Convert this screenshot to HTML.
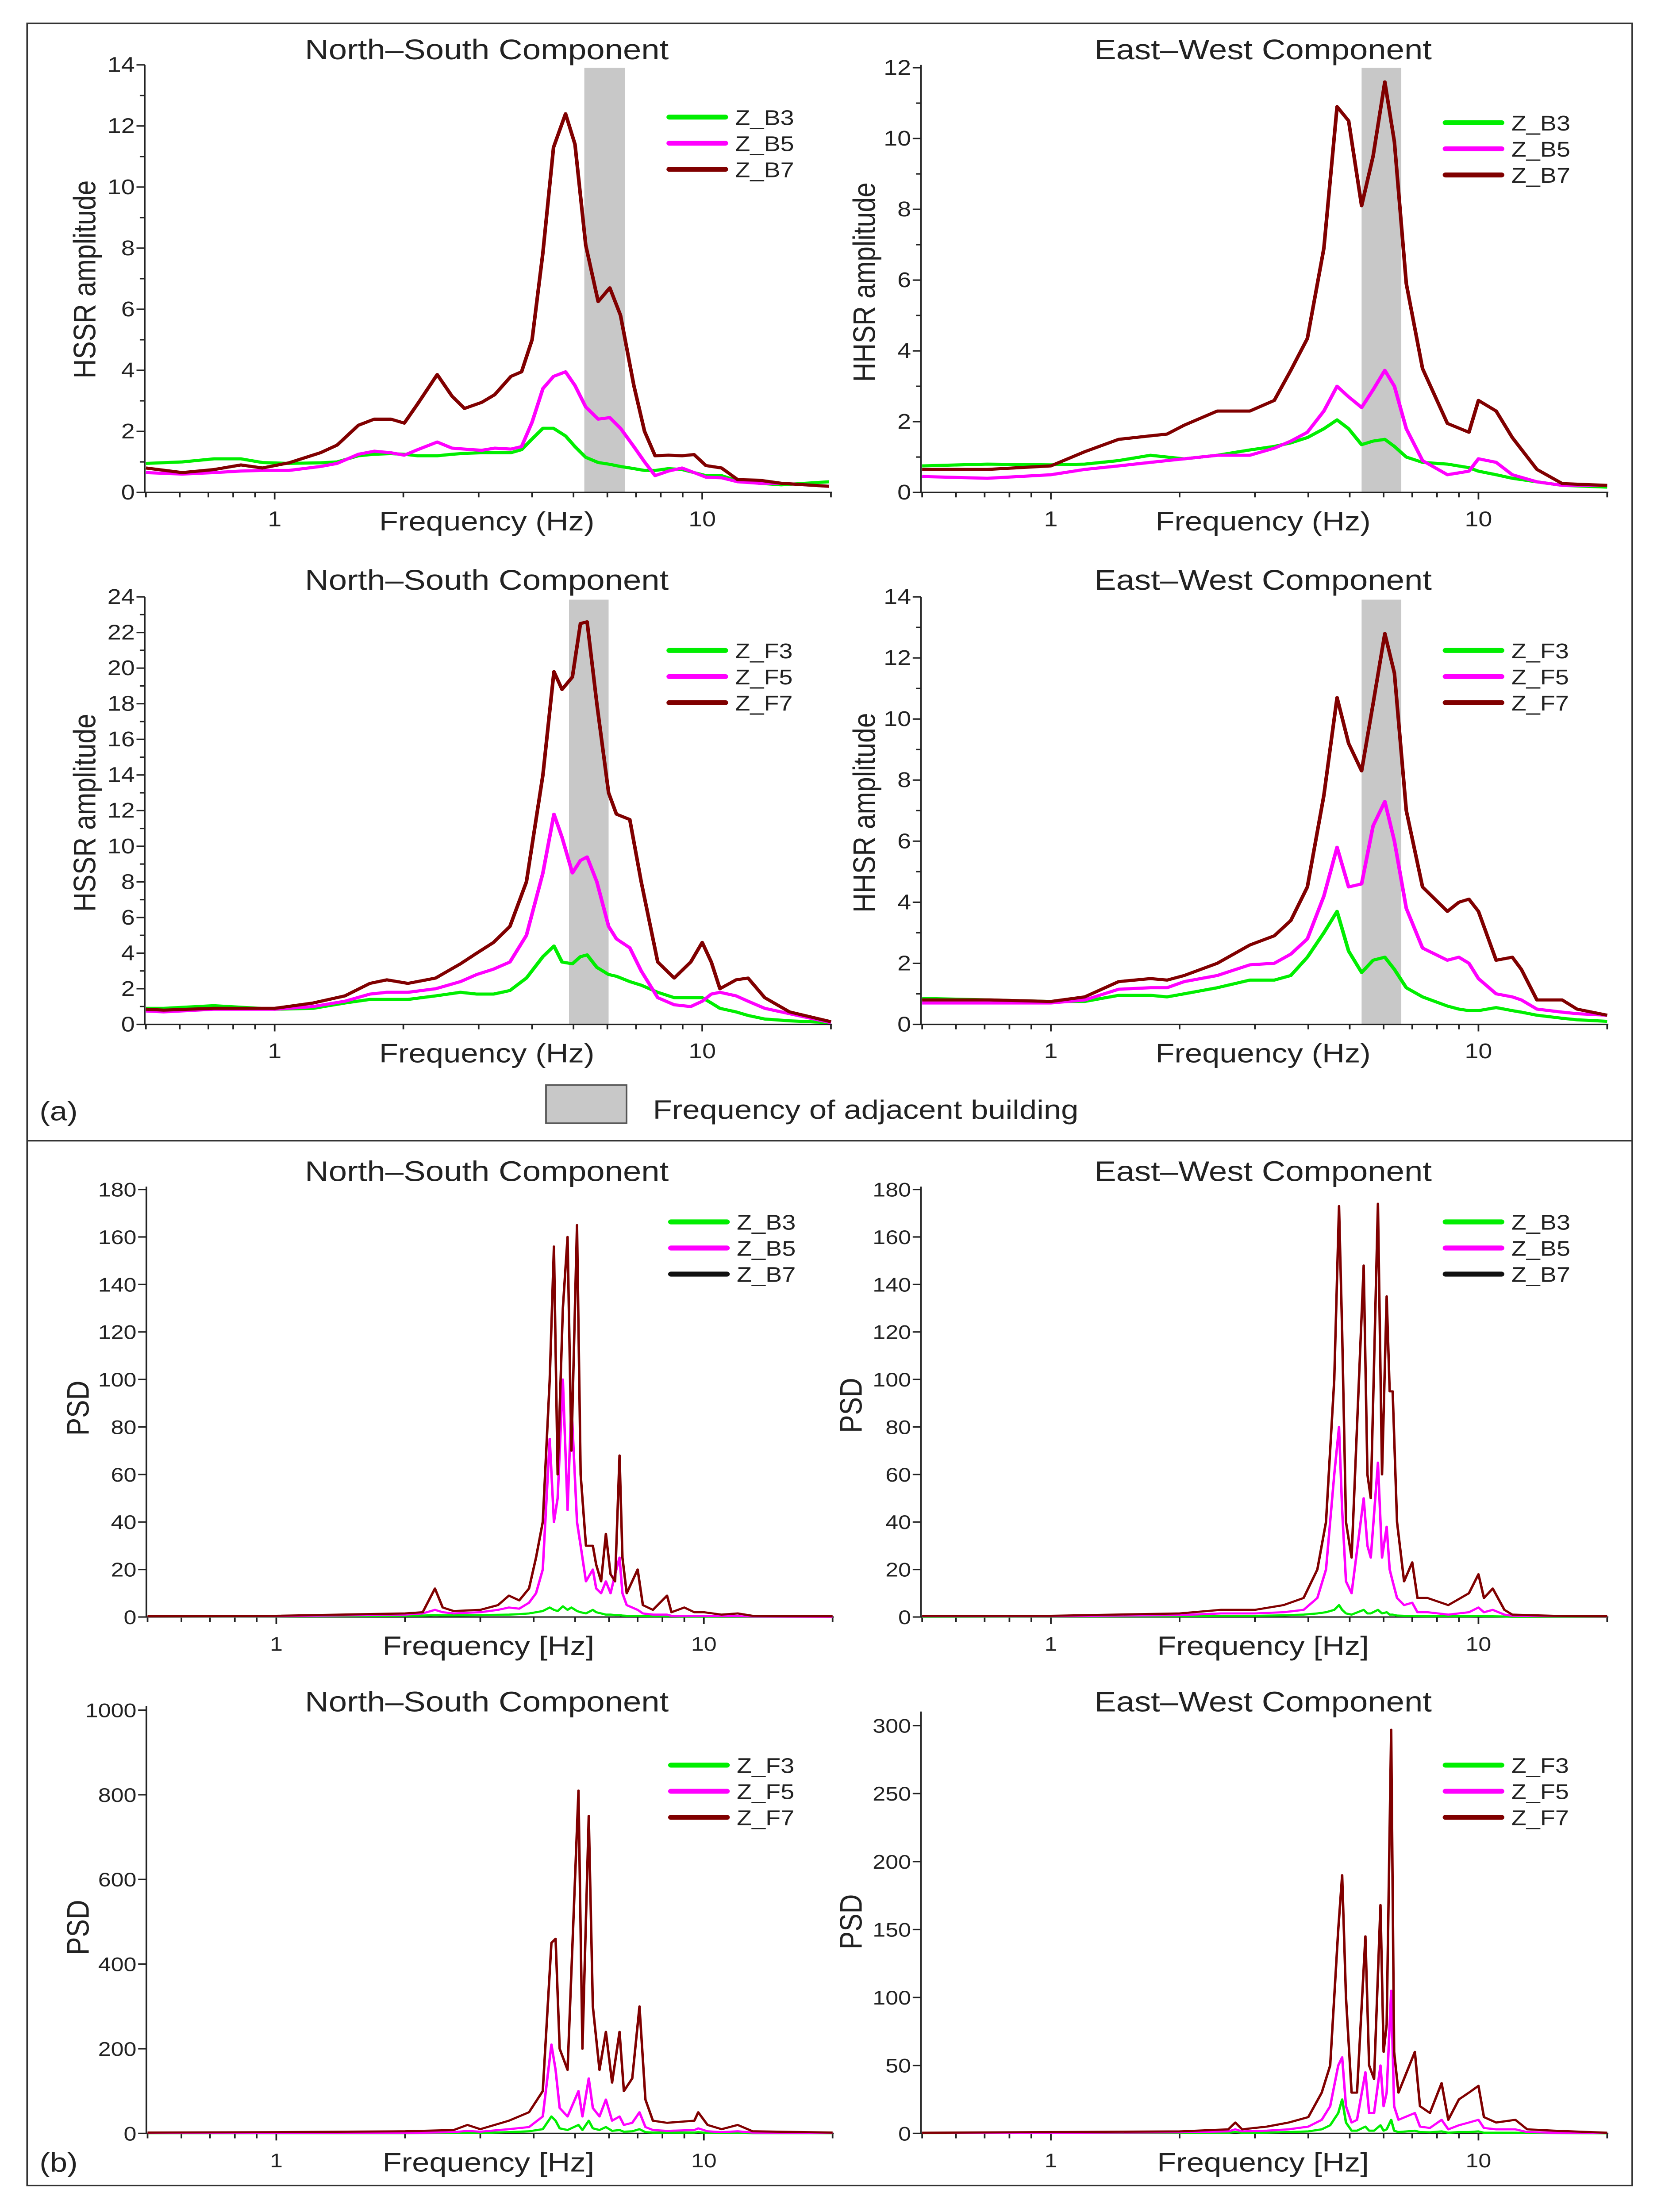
<!DOCTYPE html>
<html><head><meta charset="utf-8"><title>HSSR and PSD charts</title>
<style>
html,body{margin:0;padding:0;background:#fff;width:100%;height:100%;overflow:hidden;}
svg{display:block;position:fixed;left:0;top:0;width:100vw;height:100vh;}
text{font-family:"Liberation Sans",Arial,sans-serif;fill:#222;}
</style></head>
<body>
<svg id="fig" xmlns="http://www.w3.org/2000/svg" viewBox="0 0 1010 1567.7" preserveAspectRatio="none">
<rect x="0" y="0" width="1010" height="1567.7" fill="#fff"/>
<rect x="16.5" y="16.5" width="976" height="1532.5" fill="none" stroke="#333" stroke-width="1"/>
<line x1="16.5" y1="808.5" x2="992.5" y2="808.5" stroke="#333" stroke-width="1"/>
<text x="24" y="794" font-size="19">(a)</text>
<text x="24" y="1539" font-size="19">(b)</text>
<rect x="332" y="769" width="49" height="27" fill="#c8c8c8" stroke="#555" stroke-width="1"/>
<text x="397" y="793" font-size="19">Frequency of adjacent building</text>
</svg>
<script>
// ---------- DATA ----------
// Panel 1: HSSR NS (B)
const p1Freq = [0.50,0.608,0.722,0.834,0.936,1.08,1.28,1.40,1.57,1.71,1.87,2.01,2.16,2.40,2.60,2.78,3.05,3.27,3.57,3.78,4.00,4.24,4.49,4.79,5.04,5.34,5.71,6.08,6.44,6.92,7.33,7.76,8.34,8.97,9.57,10.2,11.1,12.1,13.6,15.3,19.8];
const p1B7 = [0.8,0.65,0.75,0.9,0.8,0.97,1.3,1.55,2.2,2.4,2.4,2.27,2.9,3.86,3.15,2.75,2.95,3.2,3.8,3.95,5.0,7.85,11.3,12.4,11.4,8.1,6.25,6.7,5.8,3.5,2.0,1.2,1.22,1.2,1.24,0.88,0.8,0.42,0.4,0.3,0.2];
const p1B5 = [0.65,0.6,0.65,0.7,0.72,0.72,0.85,0.95,1.25,1.35,1.3,1.22,1.4,1.65,1.45,1.42,1.38,1.45,1.42,1.5,2.3,3.4,3.8,3.95,3.5,2.8,2.4,2.45,2.1,1.5,1.0,0.55,0.7,0.8,0.65,0.5,0.48,0.35,0.3,0.3,0.2];
const p1B3 = [0.95,1.0,1.1,1.1,0.98,0.95,0.97,1.0,1.2,1.25,1.27,1.25,1.2,1.2,1.25,1.28,1.3,1.3,1.3,1.4,1.75,2.1,2.1,1.85,1.5,1.15,0.98,0.92,0.85,0.78,0.72,0.72,0.78,0.75,0.65,0.55,0.55,0.38,0.3,0.25,0.35];
const p1Band = [5.3,6.6];
const p1Ticks = [0,2,4,6,8,10,12,14];

// Panel 2: HHSR EW (B)
const p2Freq = [0.5,0.71,1.0,1.2,1.44,1.71,1.87,2.05,2.45,2.92,3.33,3.64,3.98,4.35,4.67,4.97,5.33,5.67,6.04,6.36,6.78,7.4,8.46,9.5,10,11,12,13.7,15.7,20];
const p2B7 = [0.65,0.65,0.75,1.15,1.5,1.6,1.65,1.9,2.3,2.3,2.6,3.45,4.35,6.9,10.9,10.5,8.1,9.5,11.6,9.9,5.9,3.5,1.95,1.7,2.6,2.3,1.55,0.65,0.25,0.2];
const p2B5 = [0.45,0.4,0.5,0.65,0.75,0.85,0.9,0.95,1.05,1.05,1.25,1.45,1.7,2.3,3.0,2.7,2.4,2.9,3.45,3.0,1.8,0.9,0.5,0.6,0.95,0.85,0.5,0.3,0.2,0.2];
const p2B3 = [0.75,0.8,0.78,0.8,0.9,1.05,1.0,0.95,1.05,1.2,1.3,1.4,1.55,1.8,2.05,1.8,1.35,1.45,1.5,1.3,1.0,0.85,0.8,0.7,0.6,0.5,0.4,0.3,0.2,0.15];
const p2Band = [5.33,6.6];
const p2Ticks = [0,2,4,6,8,10,12];

// Panel 3: HSSR NS (F)
const p3Freq = [0.5,0.55,0.72,1,1.23,1.46,1.67,1.83,2.05,2.38,2.72,2.97,3.25,3.55,3.88,4.24,4.5,4.7,4.97,5.19,5.38,5.67,6.04,6.3,6.77,7.2,7.87,8.6,9.4,10,10.5,11,12,12.8,14,16,20];
const p3F7 = [0.85,0.8,0.9,0.9,1.2,1.6,2.3,2.5,2.3,2.6,3.4,4.0,4.6,5.5,8,14,19.8,18.8,19.5,22.5,22.6,18,13,11.8,11.5,8,3.5,2.6,3.5,4.6,3.5,2.0,2.5,2.6,1.5,0.7,0.15];
const p3F5 = [0.75,0.7,0.85,0.85,1.0,1.3,1.7,1.8,1.8,2.0,2.4,2.8,3.1,3.5,5,8.5,11.8,10.5,8.5,9.2,9.4,8.0,5.5,4.8,4.3,3.0,1.5,1.1,1.0,1.3,1.7,1.8,1.6,1.3,0.9,0.6,0.1];
const p3F3 = [0.9,0.9,1.05,0.85,0.9,1.2,1.4,1.4,1.4,1.6,1.8,1.7,1.7,1.9,2.6,3.8,4.4,3.5,3.4,3.8,3.9,3.2,2.8,2.7,2.4,2.2,1.8,1.5,1.5,1.5,1.2,0.9,0.7,0.5,0.3,0.2,0.1];
const p3Band = [4.88,6.04];
const p3Ticks = [0,2,4,6,8,10,12,14,16,18,20,22,24];

// Panel 4: HHSR EW (F)
const p4Freq = [0.5,0.72,1,1.2,1.44,1.71,1.87,2.05,2.45,2.92,3.33,3.64,3.98,4.35,4.67,4.97,5.33,5.67,6.04,6.36,6.78,7.4,8.46,9.0,9.5,10,11,12,12.6,13.7,15.7,17,20];
const p4F7 = [0.8,0.8,0.75,0.9,1.4,1.5,1.45,1.6,2.0,2.6,2.9,3.4,4.5,7.5,10.7,9.2,8.3,10.5,12.8,11.5,7.0,4.5,3.7,4.0,4.1,3.7,2.1,2.2,1.8,0.8,0.8,0.5,0.3];
const p4F5 = [0.7,0.7,0.7,0.8,1.15,1.2,1.2,1.4,1.6,1.95,2.0,2.3,2.8,4.2,5.8,4.5,4.6,6.5,7.3,6.0,3.8,2.5,2.1,2.2,2.0,1.5,1.0,0.9,0.8,0.5,0.4,0.35,0.3];
const p4F3 = [0.85,0.8,0.75,0.75,0.95,0.95,0.9,1.0,1.2,1.45,1.45,1.6,2.2,3.0,3.7,2.4,1.7,2.1,2.2,1.8,1.2,0.9,0.6,0.5,0.45,0.45,0.55,0.45,0.4,0.3,0.2,0.15,0.1];
const p4Band = [5.33,6.6];
const p4Ticks = [0,2,4,6,8,10,12,14];

// Panel 5: PSD NS (B)
const p5Freq = [0.5,1.0,2.0,2.2,2.35,2.45,2.6,3.0,3.3,3.5,3.7,3.9,4.05,4.2,4.36,4.46,4.55,4.68,4.80,4.9,5.05,5.15,5.3,5.5,5.6,5.75,5.9,6.05,6.2,6.35,6.45,6.6,7.0,7.2,7.6,8.2,8.4,9.0,9.5,10,11,12,13,20];
const p5B7 = [0.3,0.5,1.5,2,12,4,2.5,3,5,9,7,12,25,40,100,156,60,130,160,70,165,60,30,30,22,15,35,18,15,68,25,10,20,5,3,9,2,4,2,2,1,1.5,0.5,0.3];
const p5B5 = [0.2,0.3,1,1.5,3,2,1.5,2,3,4,3.5,6,10,20,75,40,50,100,45,90,40,30,15,20,12,10,15,10,18,25,10,5,3,1.5,1,1,0.5,0.5,0.5,0.5,0.3,0.3,0.2,0.1];
const p5B3 = [0.1,0.2,0.5,0.6,0.8,0.7,0.7,0.8,0.9,1,1.2,1.5,2,2.5,4,3,2.5,4.5,3,4,2.5,2,1.5,3,2,1.5,1,1,0.8,0.8,0.6,0.5,0.5,0.4,0.3,0.3,0.3,0.2,0.2,0.2,0.1,0.1,0.1,0.1];
const p5Ticks = [0,20,40,60,80,100,120,140,160,180];

// Panel 6: PSD EW (B)
const p6Freq = [0.5,1,2,2.5,3,3.5,3.9,4.2,4.4,4.6,4.72,4.8,4.9,5.05,5.39,5.5,5.6,5.82,5.95,6.1,6.2,6.3,6.45,6.7,7.0,7.2,7.6,8.5,9.5,10,10.3,10.8,11.5,12,15,20];
const p6B7 = [0.5,0.5,1.5,3,3,5,8,20,40,100,173,120,40,25,148,60,50,174,60,135,95,95,40,15,23,8,8,5,10,18,8,12,3,1,0.5,0.3];
const p6B5 = [0.3,0.3,0.8,1.5,1.5,2,3,8,20,60,80,45,15,10,50,30,25,65,25,38,20,15,8,5,6,2,2,1,2,4,2,3,1,0.5,0.3,0.2];
const p6B3 = [0.1,0.2,0.3,0.5,0.5,0.7,1,1.5,2,3,5,3,1.5,1,3,1.5,1.5,3,1.5,2,1,1,0.6,0.5,0.5,0.4,0.3,0.3,0.3,0.5,0.3,0.3,0.2,0.1,0.1,0.1];
const p6Ticks = [0,20,40,60,80,100,120,140,160,180];

// Panel 7: PSD NS (F)
const p7Freq = [0.5,1,2,2.6,2.8,3.0,3.5,3.9,4.2,4.4,4.5,4.6,4.8,5.09,5.2,5.38,5.5,5.7,5.9,6.1,6.35,6.5,6.8,7.07,7.3,7.6,8.2,9.5,9.7,10.2,11,12,13,20];
const p7F7 = [2,3,5,8,20,10,30,50,100,450,460,200,150,810,200,750,300,150,240,120,240,100,130,300,80,30,25,30,50,20,10,20,5,2];
const p7F5 = [1,1,1,3,6,4,10,15,40,210,150,60,40,100,40,130,60,40,80,30,40,20,25,50,15,8,6,8,12,5,3,5,2,1];
const p7F3 = [0.5,0.5,0.5,1,2,1,3,5,10,40,30,12,8,20,8,30,12,8,15,6,8,4,5,10,3,2,2,2,3,1,1,1,0.5,0.5];
const p7Ticks = [0,200,400,600,800,1000];

// Panel 8: PSD EW (F)
const p8Freq = [0.5,1,2,2.6,2.7,2.8,3.2,3.6,4.0,4.3,4.5,4.7,4.8,4.9,5.05,5.2,5.44,5.55,5.7,5.9,6.0,6.1,6.25,6.35,6.5,7.1,7.3,7.7,8.2,8.5,9.0,9.5,10,10.3,11,12.2,13,15,20];
const p8F7 = [0.5,1,1.5,3,8,3,5,8,12,30,50,150,190,100,30,30,145,50,40,168,60,80,297,60,30,60,20,15,37,10,25,30,35,12,8,10,3,2,0.5];
const p8F5 = [0.3,0.5,0.8,1.5,3,1.5,2,3,5,10,20,50,56,20,8,10,45,15,15,50,20,30,105,20,10,15,5,4,10,3,6,8,10,4,3,3,1,0.5,0.3];
const p8F3 = [0.2,0.3,0.4,0.5,1,0.5,0.6,1,1.5,3,6,15,25,8,2,2,5,2,2,6,2,3,10,2,1,2,1,0.8,1.5,0.5,1,1,1.5,0.5,0.5,0.5,0.3,0.2,0.1];
const p8Ticks = [0,50,100,150,200,250,300];

const GREEN = '#00ee00', MAGENTA = '#ff00ff', BROWN = '#800000', BLACK = '#111111';
const NS = 'http://www.w3.org/2000/svg';
const svg = document.getElementById('fig');

function mk(tag, attrs, parent){
  const e = document.createElementNS(NS, tag);
  for (const k in attrs) e.setAttribute(k, attrs[k]);
  (parent||svg).appendChild(e);
  return e;
}

function panel(cfg){
  const g = mk('g', {});
  
  
  const L = cfg.left, R = cfg.left + 418, B = cfg.bottom, T = cfg.top;
  const x1 = L + 79;
  const dec = 260;
  const xs = f => x1 + dec * Math.log10(f);
  const ys = v => B - (v / cfg.ymax) * (B - T);

  if (cfg.band){
    const r = mk('rect', {x: xs(cfg.band[0]), y: cfg.bandTop, width: xs(cfg.band[1]) - xs(cfg.band[0]), height: B - cfg.bandTop, fill: '#c8c8c8'}, g);
    
    
  }
  const ya = mk('line', {x1: L, y1: cfg.axisTop, x2: L, y2: B, stroke: '#222', 'stroke-width': 1}, g);
  
  
  const xa = mk('line', {x1: L, y1: B, x2: R, y2: B, stroke: '#222', 'stroke-width': 1}, g);
  
  
  cfg.ticks.forEach((t, i) => {
    const y = ys(t);
    mk('line', {x1: L - 5, y1: y, x2: L, y2: y, stroke: '#222', 'stroke-width': 1}, g);
    const tx = mk('text', {x: L - 6, y: y + 5, 'font-size': cfg.tickFont, 'text-anchor': 'end'}, g);
    tx.textContent = t;
    
    
    if (cfg.minor && i < cfg.ticks.length - 1){
      const ym = ys((t + cfg.ticks[i+1]) / 2);
      mk('line', {x1: L - 3, y1: ym, x2: L, y2: ym, stroke: '#222', 'stroke-width': 1}, g);
    }
  });
  [0.5,0.6,0.7,0.8,0.9,1,2,3,4,5,6,7,8,9,10,20].forEach(f => {
    const x = xs(f);
    const major = (f === 1 || f === 10);
    mk('line', {x1: x, y1: B, x2: x, y2: B + (major ? 5 : 3.5), stroke: '#222', 'stroke-width': 1}, g);
  });
  [[1,'1'],[10,'10']].forEach(p => {
    const tx = mk('text', {x: xs(p[0]), y: B + 24, 'font-size': cfg.tickFont, 'text-anchor': 'middle'}, g);
    tx.textContent = p[1];
    
    
  });
  const xl = mk('text', {x: L + 208, y: B + 27, 'font-size': 19, 'text-anchor': 'middle'}, g);
  xl.textContent = cfg.xlabel;
  
  
  const yl = mk('text', {x: 0, y: 0, 'font-size': 19, 'text-anchor': 'middle', transform: `translate(${cfg.ylabX},${cfg.ylabY}) rotate(-90)`}, g);
  yl.textContent = cfg.ylabel;
  
  
  const tt = mk('text', {x: cfg.titleX, y: cfg.titleY, 'font-size': 20, 'text-anchor': 'middle'}, g);
  tt.textContent = cfg.title;
  
  
  cfg.series.forEach(s => {
    const pts = cfg.freq.map((f, i) => xs(f).toFixed(2) + ',' + ys(s.vals[i]).toFixed(2)).join(' ');
    const pl = mk('polyline', {points: pts, fill: 'none', stroke: s.color, 'stroke-width': cfg.lw, 'stroke-linejoin': 'round'}, g);
    
    
  });
  cfg.series.forEach((s, i) => {
    const y = cfg.legY + i * 18.5;
    const ln = mk('line', {x1: L + 319, y1: y, x2: L + 353, y2: y, stroke: s.legColor || s.color, 'stroke-width': 3.5, 'stroke-linecap': 'round'}, g);
    
    
    const tx = mk('text', {x: L + 359, y: y + 5.5, 'font-size': 15}, g);
    tx.textContent = s.label;
    
    
  });
}

const NSs = 'North\u2013South Component', EWs = 'East\u2013West Component';
panel({name:'hssr-ns-b', left:88, top:46, bottom:349, axisTop:46, ymax:14, ticks:p1Ticks, minor:true, tickFont:15, lw:2.2,
  band:p1Band, bandTop:48, freq:p1Freq, xlabel:'Frequency (Hz)', ylabel:'HSSR amplitude', ylabX:58, ylabY:198, title:NSs, titleX:296, titleY:42, legY:83,
  series:[{label:'Z_B3',color:GREEN,vals:p1B3},{label:'Z_B5',color:MAGENTA,vals:p1B5},{label:'Z_B7',color:BROWN,vals:p1B7}]});
panel({name:'hhsr-ew-b', left:560, top:48, bottom:349, axisTop:46, ymax:12, ticks:p2Ticks, minor:true, tickFont:15, lw:2.2,
  band:p2Band, bandTop:48, freq:p2Freq, xlabel:'Frequency (Hz)', ylabel:'HHSR amplitude', ylabX:532, ylabY:200, title:EWs, titleX:768, titleY:42, legY:87,
  series:[{label:'Z_B3',color:GREEN,vals:p2B3},{label:'Z_B5',color:MAGENTA,vals:p2B5},{label:'Z_B7',color:BROWN,vals:p2B7}]});
panel({name:'hssr-ns-f', left:88, top:423, bottom:726, axisTop:423, ymax:24, ticks:p3Ticks, minor:true, tickFont:15, lw:2.2,
  band:p3Band, bandTop:425, freq:p3Freq, xlabel:'Frequency (Hz)', ylabel:'HSSR amplitude', ylabX:58, ylabY:576, title:NSs, titleX:296, titleY:418, legY:461,
  series:[{label:'Z_F3',color:GREEN,vals:p3F3},{label:'Z_F5',color:MAGENTA,vals:p3F5},{label:'Z_F7',color:BROWN,vals:p3F7}]});
panel({name:'hhsr-ew-f', left:560, top:423, bottom:726, axisTop:423, ymax:14, ticks:p4Ticks, minor:true, tickFont:15, lw:2.2,
  band:p4Band, bandTop:425, freq:p4Freq, xlabel:'Frequency (Hz)', ylabel:'HHSR amplitude', ylabX:532, ylabY:576, title:EWs, titleX:768, titleY:418, legY:461,
  series:[{label:'Z_F3',color:GREEN,vals:p4F3},{label:'Z_F5',color:MAGENTA,vals:p4F5},{label:'Z_F7',color:BROWN,vals:p4F7}]});
panel({name:'psd-ns-b', left:89, top:843, bottom:1146, axisTop:841, ymax:180, ticks:p5Ticks, minor:false, tickFont:14, lw:1.5,
  freq:p5Freq, xlabel:'Frequency [Hz]', ylabel:'PSD', ylabX:54, ylabY:998, title:NSs, titleX:296, titleY:837, legY:866,
  series:[{label:'Z_B3',color:GREEN,vals:p5B3},{label:'Z_B5',color:MAGENTA,vals:p5B5},{label:'Z_B7',color:BROWN,legColor:BLACK,vals:p5B7}]});
panel({name:'psd-ew-b', left:560, top:843, bottom:1146, axisTop:841, ymax:180, ticks:p6Ticks, minor:false, tickFont:14, lw:1.5,
  freq:p6Freq, xlabel:'Frequency [Hz]', ylabel:'PSD', ylabX:524, ylabY:996, title:EWs, titleX:768, titleY:837, legY:866,
  series:[{label:'Z_B3',color:GREEN,vals:p6B3},{label:'Z_B5',color:MAGENTA,vals:p6B5},{label:'Z_B7',color:BROWN,legColor:BLACK,vals:p6B7}]});
panel({name:'psd-ns-f', left:89, top:1212, bottom:1512, axisTop:1209, ymax:1000, ticks:p7Ticks, minor:false, tickFont:14, lw:1.5,
  freq:p7Freq, xlabel:'Frequency [Hz]', ylabel:'PSD', ylabX:54, ylabY:1366, title:NSs, titleX:296, titleY:1213, legY:1251,
  series:[{label:'Z_F3',color:GREEN,vals:p7F3},{label:'Z_F5',color:MAGENTA,vals:p7F5},{label:'Z_F7',color:BROWN,vals:p7F7}]});
panel({name:'psd-ew-f', left:560, top:1223, bottom:1512, axisTop:1213, ymax:300, ticks:p8Ticks, minor:false, tickFont:14, lw:1.5,
  freq:p8Freq, xlabel:'Frequency [Hz]', ylabel:'PSD', ylabX:524, ylabY:1362, title:EWs, titleX:768, titleY:1213, legY:1251,
  series:[{label:'Z_F3',color:GREEN,vals:p8F3},{label:'Z_F5',color:MAGENTA,vals:p8F5},{label:'Z_F7',color:BROWN,vals:p8F7}]});
</script>
</body></html>
